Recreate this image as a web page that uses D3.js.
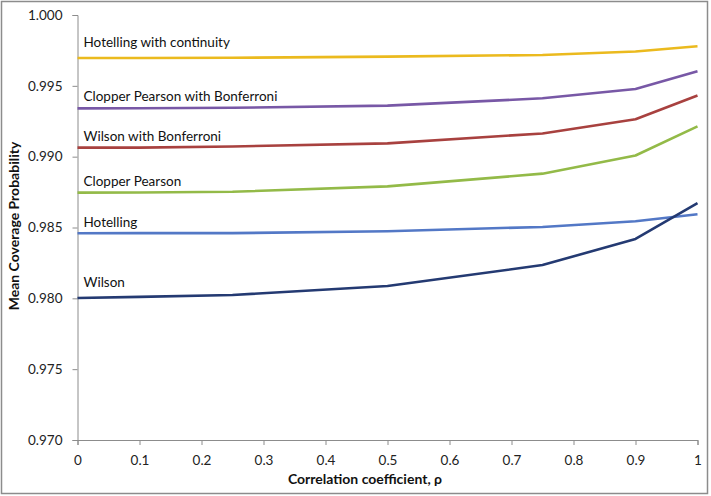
<!DOCTYPE html>
<html><head><meta charset="utf-8">
<script src="https://cdn.jsdelivr.net/npm/d3@7"></script>
<style>
html,body{margin:0;padding:0;background:#fff;}
svg{display:block;font-family:Lato, "Open Sans", sans-serif;}
</style></head><body>
<svg id="chart" width="711" height="496"></svg>
<script>
const rho = [0, 0.1, 0.25, 0.5, 0.75, 0.9, 1];
const seriesNames = ["Hotelling with continuity","Clopper Pearson with Bonferroni","Wilson with Bonferroni","Clopper Pearson","Hotelling","Wilson"];
const hotellingCont = [0.99696, 0.99697, 0.99698, 0.99706, 0.99718, 0.99742, 0.99779];
const clopperBonf   = [0.99341, 0.99342, 0.99345, 0.99360, 0.99412, 0.99478, 0.99603];
const wilsonBonf    = [0.99064, 0.99064, 0.99072, 0.99094, 0.99164, 0.99264, 0.99432];
const clopper       = [0.98746, 0.98747, 0.98752, 0.98790, 0.98880, 0.99008, 0.99214];
const hotelling     = [0.98459, 0.98460, 0.98460, 0.98474, 0.98504, 0.98544, 0.98593];
const wilson        = [0.98002, 0.98010, 0.98024, 0.98087, 0.98235, 0.98419, 0.98672];
const yTicks = [0.970, 0.975, 0.980, 0.985, 0.990, 0.995, 1.000];
const xTicks = [0, 0.1, 0.2, 0.3, 0.4, 0.5, 0.6, 0.7, 0.8, 0.9, 1];
const colors = ["#EBBA1E","#7858A6","#A8413F","#93BA48","#5378C6","#243A72"];
const allSeries = [hotellingCont, clopperBonf, wilsonBonf, clopper, hotelling, wilson];

const svg = d3.select("#chart");
svg.append("rect").attr("x",1.5).attr("y",1.5).attr("width",706).attr("height",492)
  .attr("fill","none").attr("stroke","#8c8c8c").attr("stroke-width",1.5);

const x = d3.scaleLinear().domain([0,1]).range([77.5,697.5]);
const y = d3.scaleLinear().domain([0.970,1.000]).range([440,15]);

const axisColor = "#8c8c8c";
const yAxis = svg.append("g").attr("transform","translate(77.5,0)")
  .call(d3.axisLeft(y).tickValues(yTicks).tickFormat(d3.format(".3f")).tickSizeOuter(0).tickSize(5).tickPadding(10));
const xAxis = svg.append("g").attr("transform","translate(0,440)")
  .call(d3.axisBottom(x).tickValues(xTicks).tickFormat(d=>d3.format("")(d)).tickSizeOuter(0).tickSize(5).tickPadding(10));
[yAxis,xAxis].forEach(g=>{
  g.selectAll("path,line").attr("stroke",axisColor);
  g.selectAll("text").attr("fill","#222").style("font-size","13.5px").style("font-family","Lato, sans-serif");
});

const line = d3.line().x((d,i)=>x(rho[i])).y(d=>y(d));
allSeries.forEach((s,k)=>{
  svg.append("path").datum(s).attr("d",line).attr("fill","none")
    .attr("stroke",colors[k]).attr("stroke-width",2.6).attr("stroke-linejoin","round");
});

const labelOffsets = [11, 7.5, 7, 6.5, 6.5, 11];
allSeries.forEach((s,k)=>{
  svg.append("text").attr("x",x(0)+6).attr("y",y(s[0])-labelOffsets[k])
    .text(seriesNames[k]).attr("fill","#111").style("font-size","13.5px");
});

svg.append("text").attr("transform","translate(19,226) rotate(-90)").attr("text-anchor","middle")
  .style("font-size","14px").style("font-weight","bold").attr("fill","#111").text("Mean Coverage Probability");
svg.append("text").attr("x",365).attr("y",484).attr("text-anchor","middle")
  .style("font-size","14px").style("font-weight","bold").attr("fill","#111").text("Correlation coefficient, ρ");
</script></body></html>
